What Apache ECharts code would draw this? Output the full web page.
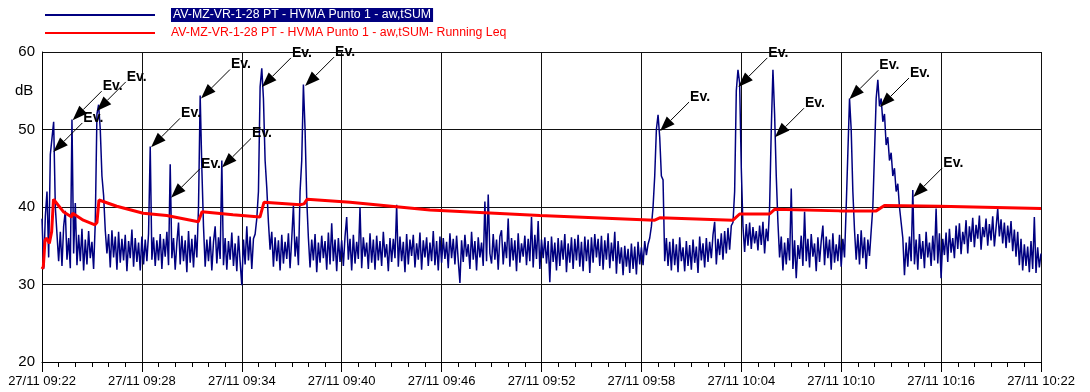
<!DOCTYPE html>
<html>
<head>
<meta charset="utf-8">
<title>HVMA Punto 1 - aw,tSUM</title>
<script src="https://cdn.jsdelivr.net/npm/echarts@6/dist/echarts.min.js"></script>
<style>
  html, body { margin: 0; padding: 0; background: #fff; }
  #chart { width: 1090px; height: 392px; }
</style>
</head>
<body>
<div id="chart"></div>
<script>
// time axis is in minutes after 27/11 09:22, the level trace has one sample every 6 s
const sampleStep = 0.1
const nameLevel = 'AV-MZ-VR-1-28 PT - HVMA Punto 1 - aw,tSUM'
const nameLeq = 'AV-MZ-VR-1-28 PT - HVMA Punto 1 - aw,tSUM- Running Leq'

const xTickLabels = ['27/11 09:22', '27/11 09:28', '27/11 09:34', '27/11 09:40', '27/11 09:46', '27/11 09:52',
  '27/11 09:58', '27/11 10:04', '27/11 10:10', '27/11 10:16', '27/11 10:22']

// 09:22 - 09:28
const seg0 = [
  38.5, 32.0, 38.8, 42.0, 33.5, 46.8, 47.0, 51.0, 40.0, 36.5,
  33.0, 36.8, 32.4, 37.5, 39.5, 33.2, 36.0, 32.1, 51.3, 34.0,
  40.5, 32.5, 36.4, 33.0, 37.2, 31.8, 35.8, 32.6, 36.9, 33.4,
  35.5, 32.0, 38.0, 52.0, 53.2, 50.0, 44.0, 41.5, 37.0, 34.0,
  36.5, 32.2, 37.0, 33.5, 36.2, 31.9, 36.8, 32.8, 35.9, 33.1,
  36.4, 31.7, 35.6, 33.4, 37.1, 32.3, 36.0, 32.9, 35.4, 31.8
]
// 09:28 - 09:34
const seg1 = [
  36.2, 32.6, 35.8, 33.0, 36.6, 47.8, 33.2, 36.1, 32.4, 35.7,
  33.1, 36.5, 32.0, 35.9, 33.6, 36.8, 32.5, 45.5, 33.4, 36.0,
  31.9, 35.4, 38.0, 32.6, 36.3, 33.0, 35.7, 31.6, 36.9, 32.8,
  35.9, 32.2, 36.4, 33.5, 40.0, 54.4, 45.0, 37.5, 32.3, 35.8,
  33.0, 36.2, 31.8, 35.5, 37.5, 32.7, 36.1, 33.3, 46.0, 32.5,
  36.0, 31.9, 35.6, 33.2, 36.7, 32.4, 35.3, 31.7, 36.3, 32.9
]
// 09:34 - 09:40
const seg2 = [
  29.9, 35.8, 32.6, 37.5, 33.1, 36.2, 32.0, 35.9, 36.5, 38.5,
  42.0, 55.5, 57.9, 54.0, 46.0, 42.5, 38.0, 34.5, 36.8, 32.3,
  36.1, 33.0, 35.7, 31.8, 36.4, 32.7, 35.5, 33.3, 36.6, 32.1,
  35.9, 40.2, 33.6, 36.2, 32.5, 42.0, 46.0, 55.8, 50.0, 41.0,
  36.0, 32.2, 35.8, 33.1, 36.5, 31.6, 35.4, 32.8, 36.3, 33.4,
  35.6, 31.9, 36.7, 32.6, 37.9, 33.0, 35.8, 31.7, 36.0, 32.9
]
// 09:40 - 09:46
const seg3 = [
  35.7, 32.4, 36.2, 38.7, 33.2, 35.9, 31.8, 36.4, 32.7, 35.5,
  33.3, 40.0, 32.1, 36.1, 33.6, 35.4, 32.0, 36.6, 32.8, 35.8,
  31.9, 36.3, 33.1, 35.6, 32.4, 36.8, 33.5, 35.2, 31.7, 36.0,
  32.9, 35.9, 33.4, 40.3, 32.3, 36.2, 33.0, 35.5, 31.6, 36.5,
  32.6, 35.8, 33.7, 36.4, 32.2, 35.3, 33.2, 36.7, 31.9, 35.7,
  33.5, 36.1, 32.4, 35.4, 33.0, 36.9, 32.5, 35.6, 31.8, 36.2
]
// 09:46 - 09:52
const seg4 = [
  32.8, 36.0, 33.3, 35.5, 32.1, 36.6, 33.4, 35.9, 32.6, 36.3,
  33.1, 30.2, 35.7, 32.9, 36.4, 33.6, 35.2, 32.0, 36.8, 33.2,
  35.6, 31.8, 36.1, 33.5, 35.4, 32.4, 40.7, 33.0, 41.6, 34.0,
  32.7, 36.5, 33.2, 35.8, 31.9, 36.2, 37.0, 32.6, 35.5, 33.4,
  38.5, 32.3, 36.0, 33.1, 35.7, 31.7, 36.6, 32.8, 35.3, 33.6,
  36.3, 32.5, 35.9, 33.0, 38.7, 32.2, 36.4, 33.3, 38.2, 32.0
]
// 09:52 - 09:58
const seg5 = [
  35.8, 33.4, 36.1, 32.7, 35.6, 30.3, 36.2, 32.9, 35.4, 31.8,
  36.0, 32.4, 35.7, 33.2, 36.5, 31.6, 35.3, 32.8, 36.1, 32.0,
  35.9, 33.1, 36.4, 32.3, 35.5, 31.7, 36.2, 33.0, 35.8, 31.5,
  36.1, 32.8, 36.5, 33.5, 35.9, 32.4, 36.3, 31.9, 35.7, 33.2,
  36.6, 32.1, 35.4, 33.0, 36.8, 31.4, 35.6, 32.7, 34.8, 31.2,
  35.0, 32.3, 34.6, 31.5, 35.3, 32.0, 34.9, 31.3, 35.5, 32.6
]
// 09:58 - 10:04
const seg6 = [
  34.8, 32.5, 35.6, 33.8, 35.2, 36.0, 37.5, 40.0, 44.0, 50.0,
  51.9, 49.0, 44.0, 43.5, 33.0, 36.0, 32.4, 35.5, 31.8, 35.9,
  32.5, 35.2, 31.6, 36.1, 33.0, 34.8, 31.7, 35.6, 32.4, 35.1,
  31.9, 35.8, 32.8, 34.9, 31.5, 36.2, 33.1, 35.3, 32.2, 36.0,
  32.9, 35.5, 33.4, 36.4, 38.1, 32.6, 35.9, 33.8, 36.6, 33.2,
  36.9, 34.0, 37.3, 34.5, 37.6, 38.0, 42.0, 55.0, 57.7, 56.0
]
// 10:04 - 10:10
const seg7 = [
  45.0, 37.5, 34.2, 37.8, 35.0, 38.0, 34.6, 37.4, 35.3, 36.9,
  34.4, 37.6, 35.1, 38.1, 34.0, 37.2, 35.6, 40.0, 50.0, 57.7,
  52.0, 44.0, 38.0, 33.5, 36.2, 31.8, 35.4, 32.6, 36.0, 33.1,
  42.4, 32.0, 35.7, 30.8, 35.1, 33.3, 36.3, 32.4, 39.4, 33.0,
  35.9, 32.2, 36.5, 33.6, 35.3, 31.7, 36.1, 32.9, 35.6, 37.6,
  32.5, 36.2, 33.4, 35.8, 31.9, 36.6, 32.8, 35.2, 33.0, 36.4
]
// 10:10 - 10:16
const seg8 = [
  32.3, 35.9, 33.5, 40.0, 47.0, 54.0, 50.0, 42.0, 37.0, 33.2,
  36.5, 32.6, 37.0, 33.4, 36.1, 32.0, 35.8, 33.7, 36.9, 40.0,
  47.0, 54.0, 56.4, 53.0, 54.0, 51.0, 52.0, 48.0, 49.0, 46.0,
  47.0, 44.0, 45.0, 42.0, 43.0, 40.0, 38.0, 36.0, 31.2, 35.4,
  32.3, 36.2, 33.0, 42.2, 32.6, 35.8, 31.9, 36.5, 33.3, 35.6,
  32.1, 36.8, 33.5, 35.4, 32.4, 36.3, 33.1, 39.8, 32.7, 36.6
]
// 10:16 - 10:22
const seg9 = [
  30.8, 35.9, 33.8, 36.7, 32.9, 37.2, 34.1, 36.0, 33.4, 37.6,
  34.6, 37.9, 33.9, 36.8, 35.2, 38.3, 34.0, 37.5, 35.5, 38.6,
  34.8, 37.7, 35.9, 38.9, 34.5, 37.4, 36.1, 38.5, 35.0, 37.8,
  35.7, 38.8, 34.9, 37.3, 39.8, 36.2, 38.4, 35.3, 38.0, 34.7,
  37.6, 35.4, 38.2, 34.3, 37.1, 33.6, 36.8, 32.5, 35.9, 31.8,
  35.2, 32.4, 34.9, 31.6, 35.6, 32.0, 38.7, 31.5, 34.8, 32.2,
  34.0
]

// running Leq, break points of the red curve
const leqTimes = [0, 0.08, 0.18, 0.27, 0.44, 0.58, 0.69, 1.28, 1.78, 1.84, 2.48, 3.18, 3.30, 3.42, 4.49,
  6.08, 7.49, 9.39, 9.61, 11.47, 13.09, 13.33, 15.5, 15.74, 15.92, 18.5, 23.3, 29.9, 36.8, 37.1,
  41.5, 41.9, 43.7, 44.0, 47.9, 50.1, 50.6, 53.9, 60]
const leqValues = [32.0, 32.3, 35.7, 36.0, 35.3, 36.8, 41.0, 39.4, 38.7, 39.2, 38.3, 37.7, 38.0, 40.9, 40.1,
  39.2, 38.9, 38.1, 39.4, 39.0, 38.7, 40.6, 40.3, 40.4, 41.0, 40.6, 39.6, 38.9, 38.3, 38.6,
  38.3, 39.1, 39.1, 39.7, 39.5, 39.5, 40.2, 40.1, 39.8]

// marked events (where the arrow points)
const eventTimes = [0.68, 1.84, 3.29, 6.55, 7.75, 9.55, 10.81, 13.21, 15.8, 37.12, 41.82, 44.02, 48.49, 50.33, 52.33]
const eventLevels = [47.1, 51.2, 52.4, 47.7, 41.2, 54.0, 45.1, 55.5, 55.6, 49.8, 55.5, 49.0, 53.9, 52.9, 41.3]

const fontFamily = '"Liberation Sans", Arial, sans-serif'

const levels = [].concat(seg0, seg1, seg2, seg3, seg4, seg5, seg6, seg7, seg8, seg9)
const levelData = levels.map((v, i) => [+(i * sampleStep).toFixed(1), v])
const leqData = leqTimes.map((t, i) => [t, leqValues[i]])
const eventData = eventTimes.map((t, i) => [t, eventLevels[i]])

function renderEvent(params, api) {
  const tip = api.coord([api.value(0), api.value(1)])
  const d = Math.SQRT1_2
  const reach = 29
  const head = 15
  const half = 5.5
  const end = [tip[0] + reach, tip[1] - reach]
  const bx = tip[0] + head * d
  const by = tip[1] - head * d
  return {
    type: 'group',
    children: [
      {
        type: 'line',
        shape: { x1: bx, y1: by, x2: end[0], y2: end[1] },
        style: { stroke: '#000', lineWidth: 1 }
      },
      {
        type: 'polygon',
        shape: { points: [tip, [bx + half * d, by + half * d], [bx - half * d, by - half * d]] },
        style: { fill: '#000' }
      },
      {
        type: 'text',
        x: end[0] + 1,
        y: end[1] + 2,
        style: {
          text: 'Ev.',
          fill: '#000',
          font: 'bold 14px ' + fontFamily,
          align: 'left',
          verticalAlign: 'bottom'
        }
      }
    ]
  }
}

const chart = echarts.init(document.getElementById('chart'))
chart.setOption({
  animation: false,
  backgroundColor: '#fff',
  grid: { left: 42, right: 49, top: 52, bottom: 30 },
  legend: {
    orient: 'vertical',
    left: 44,
    top: 8,
    padding: 0,
    itemWidth: 110,
    itemHeight: 15,
    itemGap: 5,
    selectedMode: false,
    itemStyle: { opacity: 0 },
    data: [nameLevel, nameLeq],
    formatter: name => (name === nameLevel ? '{s|}{a|' : '{s|}{b|') + name + '}',
    textStyle: {
      fontFamily: fontFamily,
      fontSize: 12.3,
      rich: {
        s: { width: 11 },
        a: { color: '#fff', backgroundColor: '#000080', padding: [1, 2, 1, 2], fontSize: 12.3, fontFamily: fontFamily },
        b: { color: '#ff0000', fontSize: 12.3, fontFamily: fontFamily }
      }
    }
  },
  graphic: [
    { type: 'text', left: 15, top: 83, style: { text: 'dB', fontSize: 15, fontFamily: fontFamily, fill: '#000' } }
  ],
  xAxis: {
    type: 'value',
    min: 0,
    max: 60,
    interval: 6,
    axisLine: { lineStyle: { color: '#000' } },
    axisTick: { length: 10, lineStyle: { color: '#000' } },
    minorTick: { show: true, splitNumber: 6, length: 5, lineStyle: { color: '#000' } },
    axisLabel: {
      margin: 13,
      color: '#000',
      fontSize: 13,
      fontFamily: fontFamily,
      showMinLabel: true,
      showMaxLabel: true,
      formatter: v => xTickLabels[Math.round(v / 6)]
    },
    splitLine: { show: true, lineStyle: { color: '#111' } }
  },
  yAxis: {
    type: 'value',
    min: 20,
    max: 60,
    interval: 10,
    axisLine: { show: true, lineStyle: { color: '#000' } },
    axisTick: { show: false },
    axisLabel: { color: '#000', fontSize: 15, fontFamily: fontFamily, margin: 7 },
    splitLine: { show: true, lineStyle: { color: '#111' } }
  },
  series: [
    {
      name: nameLevel,
      type: 'line',
      data: levelData,
      symbol: 'none',
      lineStyle: { color: '#000080', width: 1.5 },
      itemStyle: { color: '#000080' },
      z: 2
    },
    {
      name: nameLeq,
      type: 'line',
      data: leqData,
      symbol: 'none',
      lineStyle: { color: '#ff0000', width: 3 },
      itemStyle: { color: '#ff0000' },
      z: 3
    },
    {
      type: 'custom',
      renderItem: renderEvent,
      data: eventData,
      silent: true,
      z: 4
    }
  ]
})
</script>
</body>
</html>
